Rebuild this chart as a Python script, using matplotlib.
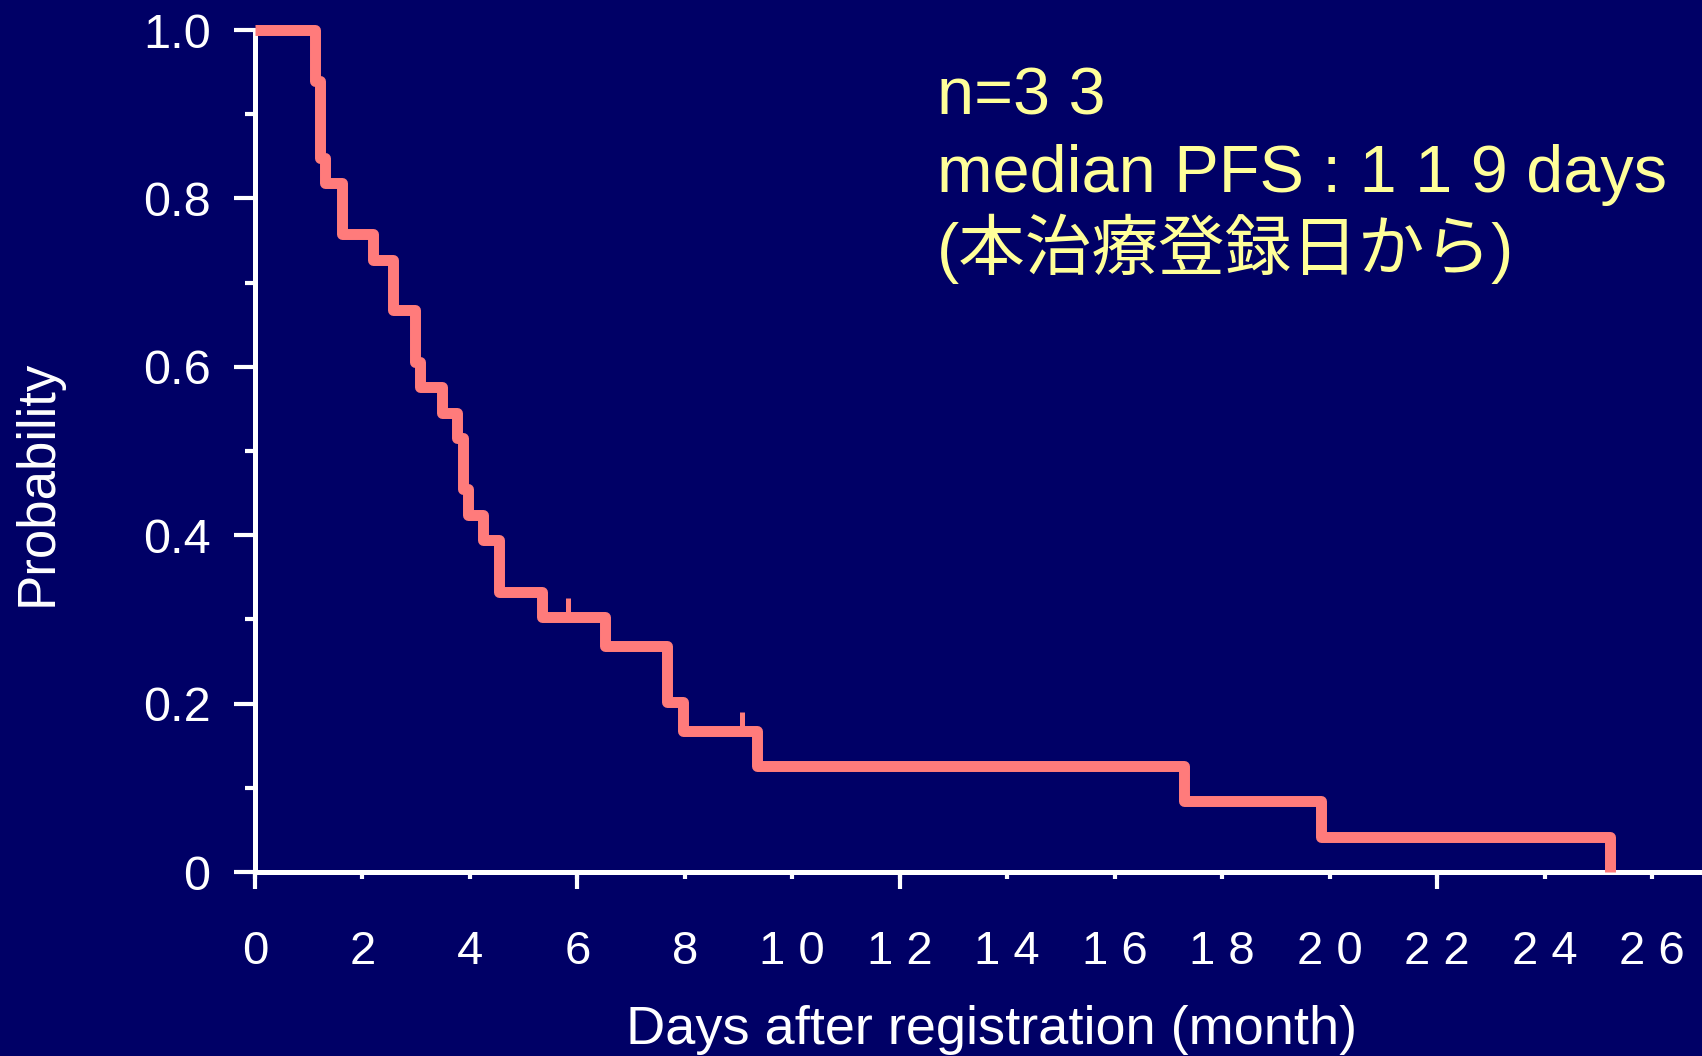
import matplotlib
matplotlib.use("Agg")
import matplotlib.pyplot as plt

plt.rcParams['font.family'] = ['Liberation Sans', 'Noto Sans CJK JP', 'DejaVu Sans']

# Kaplan-Meier steps (month, probability after the drop)
times = [0, 1.12, 1.21, 1.30, 1.61, 2.19, 2.57, 2.98, 3.07, 3.48, 3.76, 3.87, 3.96,
         4.24, 4.54, 5.34, 6.51, 7.67, 7.97, 9.34, 17.29, 19.84, 25.22]
surv = [1.0, 0.939, 0.848, 0.818, 0.758, 0.727, 0.667, 0.606, 0.576, 0.545, 0.515, 0.455, 0.424,
        0.394, 0.333, 0.303, 0.269, 0.202, 0.168, 0.126, 0.084, 0.042, 0.0]
# censored observations
cens_t = [5.83, 9.06]
cens_s = [0.303, 0.168]

xticks = list(range(0, 27, 2))
xlabels = ["0", "2", "4", "6", "8", "1 0", "1 2", "1 4", "1 6", "1 8", "2 0", "2 2", "2 4", "2 6"]
long_xticks = [0, 6, 12, 22]
yticks = [0, 0.2, 0.4, 0.6, 0.8, 1.0]
ylabels = ["0", "0.2", "0.4", "0.6", "0.8", "1.0"]
yminor = [0.1, 0.3, 0.5, 0.7, 0.9]

bg = "#000066"
red = "#FF7B7B"
yellow = "#FFFF99"

fig = plt.figure(figsize=(17.02, 10.56), dpi=100, facecolor=bg)
ax = fig.add_axes([255 / 1702, 1 - 872 / 1056, 1 - 255 / 1702, (872 - 30) / 1056])
ax.set_facecolor(bg)

ax.step(times, surv, where="post", color=red, lw=7.9, solid_joinstyle="round",
        solid_capstyle="butt", clip_on=False, zorder=5)
ax.vlines(cens_t, cens_s, [s + 0.022 for s in cens_s], color=red, lw=3.6, zorder=5)

ax.set_xlim(0, 26.93)
ax.set_ylim(0, 1.0)

for s in ["top", "right"]:
    ax.spines[s].set_visible(False)
for s in ["left", "bottom"]:
    ax.spines[s].set_color("white")
    ax.spines[s].set_linewidth(3.6)

ax.set_xticks(xticks, labels=xlabels)
ax.xaxis.remove_overlapping_locs = False
ax.set_xticks(long_xticks, minor=True)
ax.set_yticks(yticks, labels=ylabels)
ax.set_yticks(yminor, minor=True)

ax.tick_params(axis="x", which="major", length=5, width=3, color="white",
               labelcolor="white", labelsize=34, pad=37)
ax.tick_params(axis="x", which="minor", length=12, width=3, color="white")
ax.tick_params(axis="y", which="major", length=15, width=3, color="white",
               labelcolor="white", labelsize=35, pad=17)
ax.tick_params(axis="y", which="minor", length=7, width=3, color="white")

ax.set_ylabel("Probability", color="white", fontsize=38, va="center")
ax.yaxis.set_label_coords(-0.15, 0.462)
ax.set_xlabel("Days after registration (month)", color="white", fontsize=39, va="center")
ax.xaxis.set_label_coords(0.509, -0.188)

ax.text(0.471, 0.900, "n=3 3", transform=ax.transAxes, color=yellow, fontsize=48, va="baseline")
ax.text(0.471, 0.8076, "median PFS : 1 1 9 days", transform=ax.transAxes, color=yellow,
        fontsize=48, va="baseline")
ax.text(0.471, 0.715, "(本治療登録日から)", transform=ax.transAxes, color=yellow,
        fontsize=48, va="baseline")

fig.savefig("out.png", dpi=100, facecolor=bg)
